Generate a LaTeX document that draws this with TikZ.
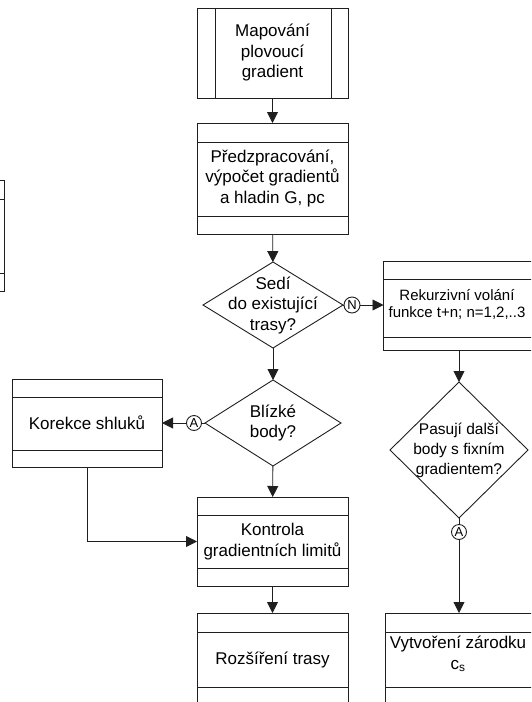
\documentclass[tikz,border=0pt]{standalone}
\usepackage{fontspec}
\setmainfont{Liberation Sans}
\usetikzlibrary{shapes.geometric,arrows.meta}
\definecolor{ink}{gray}{0.12}

\begin{document}
\begin{tikzpicture}[x=1pt,y=-1pt,line width=0.9pt,
  every node/.style={align=center,font=\fontsize{17}{20.5}\selectfont},
  box/.style={draw=ink,rectangle,inner sep=0pt,outer sep=0pt,minimum width=151pt},
  bands/.style 2 args={path picture={
    \draw[ink,line width=0.9pt] ([yshift=-#1pt]path picture bounding box.north west) -- ([yshift=-#1pt]path picture bounding box.north east);
    \draw[ink,line width=0.9pt] ([yshift=#2pt]path picture bounding box.south west) -- ([yshift=#2pt]path picture bounding box.south east);}},
  sides/.style={path picture={
    \draw[ink,line width=0.9pt] ([xshift=18pt]path picture bounding box.north west) -- ([xshift=18pt]path picture bounding box.south west);
    \draw[ink,line width=0.9pt] ([xshift=-17pt]path picture bounding box.north east) -- ([xshift=-17pt]path picture bounding box.south east);}},
  decision/.style={draw=ink,diamond,inner sep=0pt,outer sep=0pt},
  conn/.style={draw=ink,circle,inner sep=0pt,outer sep=0pt,minimum size=15pt,font=\fontsize{13}{13}\selectfont},
  flow/.style={draw=ink,-{Triangle[length=11pt,width=11pt]}},
  plain/.style={draw=ink}]

\useasboundingbox (0,0) rectangle (531,702);
\clip (0,0) rectangle (531,702);

% partly visible process box at the left edge
\node[box,minimum height=111pt,bands={19}{18}] (frag) at (-71.5,235.5) {};

% main column
\node[box,minimum height=90pt,sides] (map) at (272.5,53) {Mapování\\plovoucí\\gradient};
\node[box,minimum height=111pt,bands={19}{18}] (pre) at (272.5,178.5) {Předzpracování,\\výpočet gradientů\\a hladin G, pc};
\node[decision,minimum width=140pt,minimum height=86pt] (d1) at (273,305) {};
\node (d1t) at (273,305) {Sedí\\do existující\\trasy?};
\node[decision,minimum width=136pt,minimum height=86pt] (d3) at (273,423) {};
\node (d3t) at (273,423) {Blízké\\body?};
\node[box,minimum height=89pt,bands={18}{18}] (kon) at (272.5,541.5) {Kontrola\\gradientních limitů};
\node[box,minimum height=92pt,bands={19}{18}] (roz) at (272.5,659) {};
\node (rozt) at (272.5,659.5) {Rozšíření trasy};

% left branch
\node[box,minimum width=150pt,minimum height=88pt,bands={18}{17}] (kor) at (87,423) {Korekce shluků};
\node[conn] (cA1) at (194,423) {A};

% right branch
\node[conn,minimum size=16pt] (cN) at (352,305) {N};
\node[box,minimum height=89pt,bands={18}{13}] (rek) at (459,305.5) {};
\node[font=\fontsize{15}{17}\selectfont] (rekt) at (457,304) {Rekurzivní volání\\funkce t+n; n=1,2,..3};
\node[decision,minimum width=138pt,minimum height=136pt] (d2) at (459,450) {};
\node[font=\fontsize{15.5}{20}\selectfont] (d2t) at (459,450) {Pasují další\\body s fixním\\gradientem?};
\node[conn] (cA2) at (459,532) {A};
\node[box,minimum height=92pt,bands={19}{18}] (vyt) at (460.5,659) {};
\node (vytt) at (458,654) {Vytvoření zárodku\\c\textsubscript{s}};

% connectors
\draw[flow] (map) -- (pre);
\draw[flow] (pre) -- (d1);
\draw[plain] (d1.east) -- (cN.west);
\draw[flow] (cN.east) -- (cN.east -| rek.west);
\draw[flow] (d1) -- (d3);
\draw[plain] (d3.west) -- (cA1.east);
\draw[flow] (cA1.west) -- (cA1.west -| kor.east);
\draw[flow] (d3) -- (kon);
\draw[flow] (kor.south) |- (kon.west);
\draw[flow] (kon) -- (roz);
\draw[flow] (rek.south -| d2.north) -- (d2.north);
\draw[plain] (d2.south) -- (cA2.north);
\draw[flow] (cA2.south) -- (cA2.south |- vyt.north);

\end{tikzpicture}
\end{document}
